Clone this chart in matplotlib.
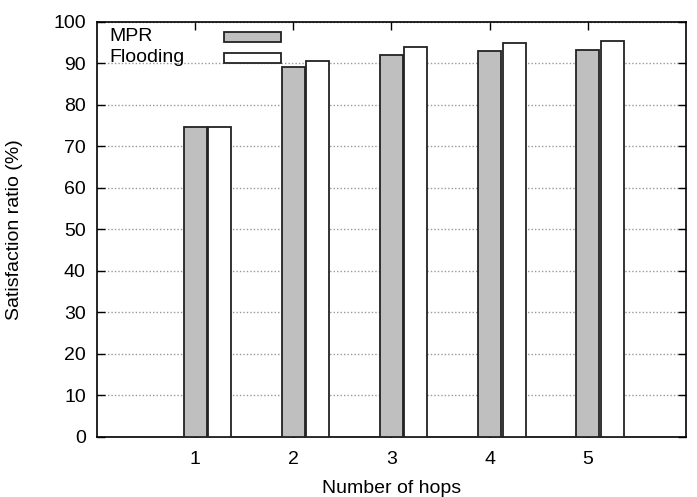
import matplotlib
matplotlib.use("Agg")
import matplotlib.pyplot as plt
import numpy as np
from matplotlib.patches import Rectangle

hops = [1, 2, 3, 4, 5]
mpr = [74.6, 89.1, 92.0, 92.9, 93.2]
flooding = [74.6, 90.6, 93.9, 95.0, 95.3]
series_names = ["MPR", "Flooding"]
series_colors = ["#bfbfbf", "#ffffff"]

plt.rcParams['font.family'] = ['Liberation Sans', 'DejaVu Sans']
plt.rcParams['font.size'] = 14

fig = plt.figure(figsize=(6.97, 4.97), dpi=100)
ax = fig.add_axes([0.139, 0.121, 0.845, 0.835])

x = np.array(hops, dtype=float)
width = 0.235
offsets = [0.0, 0.25]
for vals, off, col in zip([mpr, flooding], offsets, series_colors):
    ax.bar(x + off, vals, width, color=col, edgecolor="#222222",
           linewidth=1.3, zorder=3)

ax.set_xlim(0, 6)
ax.set_ylim(0, 100)
ax.set_xticks(hops)
ax.set_yticks(np.arange(0, 101, 10))
ax.tick_params(direction="in", length=6, width=1, top=True, right=True,
               labelsize=14)
ax.tick_params(axis="x", pad=10)
ax.tick_params(axis="y", pad=8)
ax.yaxis.grid(True, linestyle=(0, (1, 1.5)), color="#999999", linewidth=1, zorder=0)
ax.set_axisbelow(True)
for s in ax.spines.values():
    s.set_linewidth(1.2)

ax.set_xlabel("Number of hops", fontsize=14)
ax.set_ylabel("Satisfaction ratio (%)", fontsize=14)
ax.xaxis.set_label_coords(0.5, -0.105)
ax.yaxis.set_label_coords(-0.126, 0.5)

# gnuplot-style key: label left, sample box right
key_y = [0.964, 0.913]
for name, col, yy in zip(series_names, series_colors, key_y):
    ax.text(0.022, yy, name, transform=ax.transAxes, ha="left", va="center",
            fontsize=14, zorder=5)
    ax.add_patch(Rectangle((0.216, yy - 0.012), 0.096, 0.024,
                           transform=ax.transAxes, facecolor=col,
                           edgecolor="#222222", linewidth=1.3, zorder=5))

fig.savefig("out.png", dpi=100)
